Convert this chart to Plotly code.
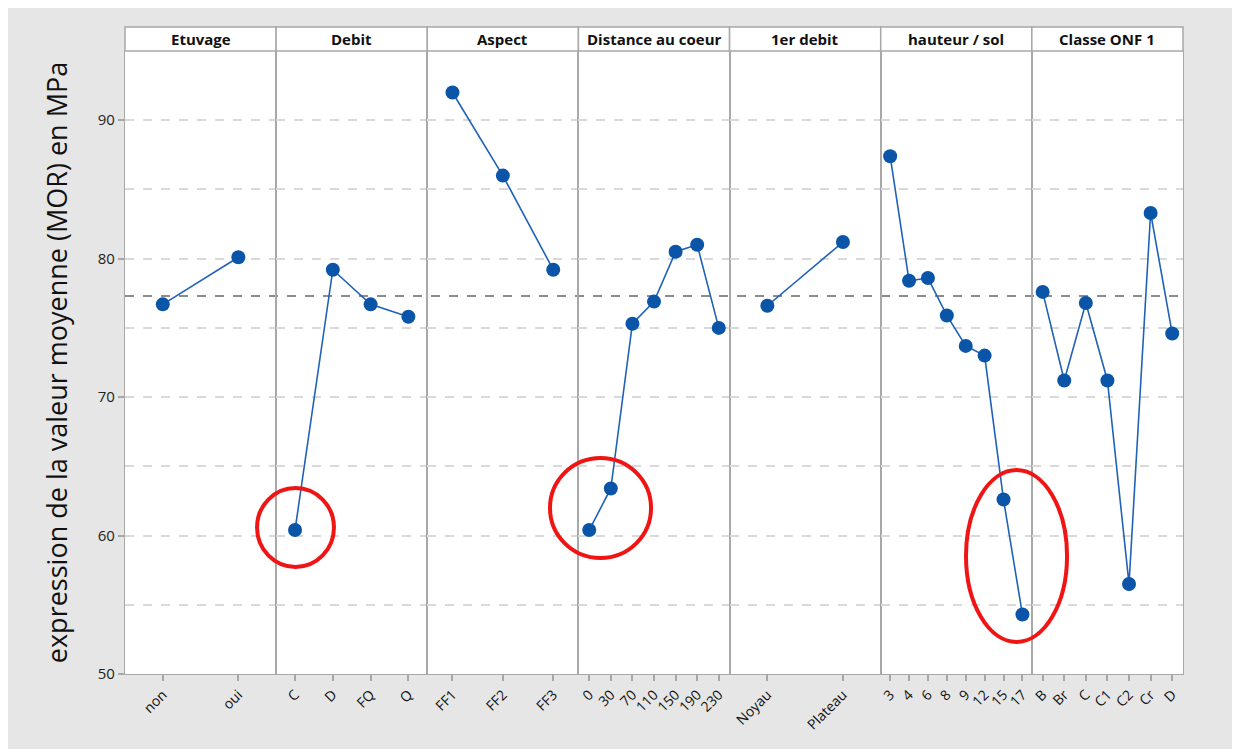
import plotly.graph_objects as go
from plotly.subplots import make_subplots

# panel titles
panels = ["Etuvage", "Debit", "Aspect", "Distance au coeur", "1er debit", "hauteur / sol", "Classe ONF 1"]

etuvage_cats = ["non", "oui"]
etuvage_vals = [76.7, 80.1]

debit_cats = ["C", "D", "FQ", "Q"]
debit_vals = [60.4, 79.2, 76.7, 75.8]

aspect_cats = ["FF1", "FF2", "FF3"]
aspect_vals = [92.0, 86.0, 79.2]

distance_cats = ["0", "30", "70", "110", "150", "190", "230"]
distance_vals = [60.4, 63.4, 75.3, 76.9, 80.5, 81.0, 75.0]

premier_cats = ["Noyau", "Plateau"]
premier_vals = [76.6, 81.2]

hauteur_cats = ["3", "4", "6", "8", "9", "12", "15", "17"]
hauteur_vals = [87.4, 78.4, 78.6, 75.9, 73.7, 73.0, 62.6, 54.3]

classe_cats = ["B", "Br", "C", "C1", "C2", "Cr", "D"]
classe_vals = [77.6, 71.2, 76.8, 71.2, 56.5, 83.3, 74.6]

grand_mean = 77.3
y_ticks = [50, 60, 70, 80, 90]

series = [
    (etuvage_cats, etuvage_vals),
    (debit_cats, debit_vals),
    (aspect_cats, aspect_vals),
    (distance_cats, distance_vals),
    (premier_cats, premier_vals),
    (hauteur_cats, hauteur_vals),
    (classe_cats, classe_vals),
]

# red highlight ellipses drawn on the original picture (paper coords)
highlights = [
    (0.1248, 0.1654, 0.1975, 0.2875),
    (0.4017, 0.1793, 0.4972, 0.3338),
    (0.7949, 0.0495, 0.8904, 0.3153),
]

BLUE = "#0a55a8"
GRID = "#d9d9d9"
FRAME = "#a8a8a8"
FONT = "Open Sans"

n = len(panels)
fig = make_subplots(rows=1, cols=n, shared_yaxes=True, horizontal_spacing=0)

for i, (cats, vals) in enumerate(series):
    col = i + 1
    fig.add_trace(go.Scatter(
        x=list(range(len(cats))), y=vals,
        mode="lines+markers",
        line=dict(color="#1f62b8", width=1.6),
        marker=dict(color=BLUE, size=14),
        showlegend=False,
    ), row=1, col=col)
    fig.update_xaxes(
        range=[-0.5, len(cats) - 0.5],
        tickvals=list(range(len(cats))), ticktext=cats,
        tickangle=-45, ticks="outside", ticklen=6, tickcolor=FRAME, tickwidth=1.5,
        showgrid=False, zeroline=False, automargin=False,
        showline=True, linecolor=FRAME, linewidth=1.2, mirror=True,
        tickfont=dict(family=FONT, size=14, color="#111"),
        row=1, col=col,
    )
    fig.update_yaxes(
        range=[50, 95], showline=True, linecolor=FRAME, linewidth=1.2, mirror=True,
        tickvals=y_ticks, showgrid=True, gridcolor=GRID, griddash="dash", gridwidth=1.5,
        minor=dict(dtick=5, showgrid=True, gridcolor=GRID, griddash="dash", gridwidth=1.5),
        zeroline=False, automargin=False,
        row=1, col=col,
    )

y_top = 623 / 647
fig.update_yaxes(domain=[0, y_top])
fig.update_yaxes(
    ticks="outside", ticklen=6, tickcolor=FRAME, tickwidth=1.5,
    tickfont=dict(family=FONT, size=15, color="#222"),
    title=dict(text="expression de la valeur moyenne (MOR) en MPa",
               font=dict(family=FONT, size=27, color="#111"), standoff=22),
    row=1, col=1,
)

shapes = []
# grand mean reference line
shapes.append(dict(type="line", xref="paper", yref="y", x0=0, x1=1,
                   y0=grand_mean, y1=grand_mean,
                   line=dict(color="#8c8c8c", width=2, dash="dash"), layer="below"))
# header strips
for i, name in enumerate(panels):
    x0, x1 = i / n, (i + 1) / n
    shapes.append(dict(type="rect", xref="paper", yref="paper", x0=x0, x1=x1, y0=y_top, y1=1,
                       fillcolor="white", line=dict(color=FRAME, width=1.5)))
    fig.add_annotation(x=(x0 + x1) / 2, y=(y_top + 1) / 2, xref="paper", yref="paper",
                       xanchor="center", yanchor="middle",
                       text="<b>" + name + "</b>", showarrow=False,
                       font=dict(family=FONT, size=15, color="#111"))
for x0, y0, x1, y1 in highlights:
    shapes.append(dict(type="circle", xref="paper", yref="paper", x0=x0, y0=y0, x1=x1, y1=y1,
                       line=dict(color="#f01414", width=4)))

fig.update_layout(
    shapes=shapes,
    width=1232, height=741,
    margin=dict(l=117, r=57, t=19, b=75),
    paper_bgcolor="#e6e6e6",
    plot_bgcolor="white",
    font=dict(family=FONT),
)

fig.write_html("out.html")
